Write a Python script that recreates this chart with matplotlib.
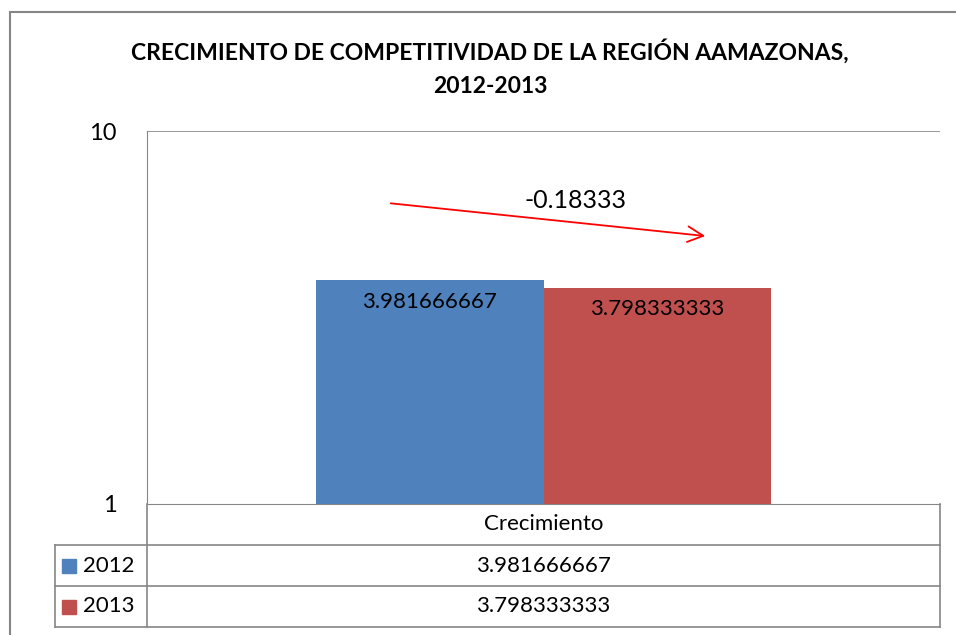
import matplotlib.pyplot as plt
from matplotlib.patches import Rectangle

plt.rcParams['font.family'] = ['Lato', 'DejaVu Sans']

category = 'Crecimiento'
years = ['2012', '2013']
values = [3.981666667, 3.798333333]
value_labels = ['3.981666667', '3.798333333']
colors = ['#4f81bd', '#c0504d']
change_label = '-0.18333'
title = 'CRECIMIENTO DE COMPETITIVIDAD DE LA REGIÓN AAMAZONAS,\n2012-2013'

W, H = 956, 635
fig = plt.figure(figsize=(W / 100, H / 100), dpi=100)

# plot area in pixels
left, right, top, bottom = 147, 940, 131, 504
ax = fig.add_axes([left / W, 1 - bottom / H, (right - left) / W, (bottom - top) / H])

grid_col = '#868686'
bar_w = 0.287
offsets = [-bar_w / 2, bar_w / 2]
for i in range(len(years)):
    ax.bar(offsets[i], values[i], bar_w, color=colors[i], zorder=3)
    ax.text(offsets[i], values[i] * 0.875, value_labels[i], ha='center', va='center',
            fontsize=16, color='black', zorder=4)

ax.set_yscale('log')
ax.set_ylim(1, 10)
ax.set_xlim(-0.5, 0.5)
ax.set_yticks([1, 10])
ax.set_yticklabels(['1', '10'], fontsize=17)
ax.minorticks_off()
ax.tick_params(axis='y', length=0, pad=22)
ax.set_xticks([])
for s in ['top', 'right']:
    ax.spines[s].set_visible(False)
ax.spines['left'].set_color(grid_col)
ax.spines['bottom'].set_color(grid_col)
ax.axhline(10, color=grid_col, lw=1.2, zorder=1)

# trend arrow
x0 = (388 - left) / (right - left) - 0.5
x1 = (708 - left) / (right - left) - 0.5
ax.annotate('', xy=(x1, 5.22), xytext=(x0, 6.41),
            arrowprops=dict(arrowstyle='->', color='red', lw=1.3, mutation_scale=28), zorder=5)
ax.text((575 - left) / (right - left) - 0.5, 6.5, change_label, ha='center', va='center',
        fontsize=18, zorder=5)

# data table under the plot
row_h = 41 / (bottom - top)
tab_left = (55 - left) / (right - left)
lk = dict(color=grid_col, lw=1.2, transform=ax.transAxes, clip_on=False)
ax.plot([0, 0], [0, -3 * row_h], **lk)
ax.plot([1, 1], [0, -3 * row_h], **lk)
ax.plot([tab_left, tab_left], [-row_h, -3 * row_h], **lk)
for k in range(1, 4):
    ax.plot([tab_left, 1], [-k * row_h, -k * row_h], **lk)
ax.text(0.5, -0.5 * row_h, category, transform=ax.transAxes, ha='center', va='center', fontsize=16)
for i in range(len(years)):
    yc = -(i + 1.5) * row_h
    ax.text(0.5, yc, value_labels[i], transform=ax.transAxes, ha='center', va='center', fontsize=16)
    ax.add_patch(Rectangle(((62 - left) / (right - left), yc - 0.5 * 14 / (bottom - top)),
                           14 / (right - left), 14 / (bottom - top), color=colors[i],
                           transform=ax.transAxes, clip_on=False))
    ax.text((83 - left) / (right - left), yc, years[i], transform=ax.transAxes,
            ha='left', va='center', fontsize=16)

fig.text(490 / W, 1 - 68 / H, title, ha='center', va='center', fontsize=16.5,
         fontweight='bold', linespacing=1.75)

# outer chart border
fig.patches.append(Rectangle((10 / W, -0.1), 1.2, 1 - 12 / H + 0.1, fill=False,
                             edgecolor=grid_col, lw=1.5, transform=fig.transFigure))

fig.savefig('out.png', dpi=100)
